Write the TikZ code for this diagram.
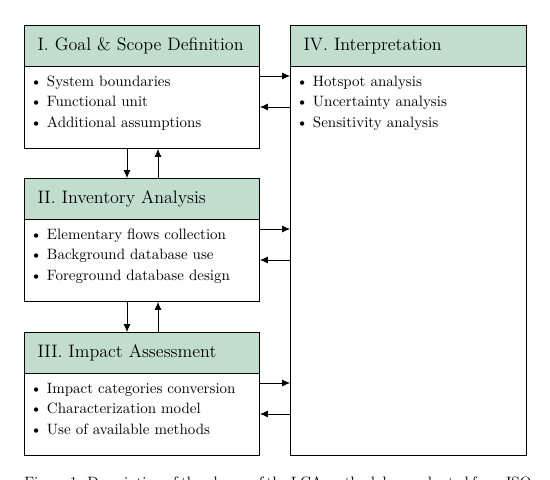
\documentclass[tikz,border=0pt]{standalone}
\usetikzlibrary{calc,arrows.meta}
\definecolor{hdr}{RGB}{193,221,205}
\begin{document}
\begin{tikzpicture}[x=0.6667pt,y=-0.6667pt,
  boxframe/.style={draw=black,line width=0.7pt,minimum width=156.67pt,minimum height=82pt,inner sep=0pt,anchor=north west},
  headbox/.style={draw=black,line width=0.7pt,fill=hdr,minimum width=156.67pt,minimum height=27.33pt,inner xsep=8.7pt,inner ysep=0pt,anchor=north west,text width=139.27pt,align=left,font=\large},
  itemlist/.style={anchor=north west,inner sep=0pt,align=left,font={\fontsize{10}{13.7}\selectfont}},
  arr/.style={-{Latex[length=5.3pt,width=4.7pt]},line width=0.5pt}]
\useasboundingbox (0,0) rectangle (550,480);
\clip (0,0) rectangle (550,480);
% Box I
\node[boxframe] (g1) at (24,25) {};
\node[headbox] (g1h) at (g1.north west) {I. Goal \& Scope Definition};
\node[itemlist] (g1l) at ($(g1h.south west)+(6,4.5)$) {\strut\textbullet{} System boundaries\\ \textbullet{} Functional unit\\ \textbullet{} Additional assumptions};
% Box II
\node[boxframe] (g2) at (24,178) {};
\node[headbox] (g2h) at (g2.north west) {II. Inventory Analysis};
\node[itemlist] (g2l) at ($(g2h.south west)+(6,4.5)$) {\strut\textbullet{} Elementary flows collection\\ \textbullet{} Background database use\\ \textbullet{} Foreground database design};
% Box III
\node[boxframe] (g3) at (24,332) {};
\node[headbox] (g3h) at (g3.north west) {III. Impact Assessment};
\node[itemlist] (g3l) at ($(g3h.south west)+(6,4.5)$) {\strut\textbullet{} Impact categories conversion\\ \textbullet{} Characterization model\\ \textbullet{} Use of available methods};
% Box IV
\node[boxframe,minimum width=157.33pt,minimum height=286.67pt] (g4) at (290,25) {};
\node[headbox,minimum width=157.33pt,text width=139.93pt] (g4h) at (g4.north west) {IV. Interpretation};
\node[itemlist] (g4l) at ($(g4h.south west)+(6,4.5)$) {\strut\textbullet{} Hotspot analysis\\ \textbullet{} Uncertainty analysis\\ \textbullet{} Sensitivity analysis};
% horizontal arrows
\foreach \b in {g1,g2,g3}{
  \coordinate (r\b) at ($(\b.north east)+(0,51)$);
  \coordinate (l\b) at ($(\b.north east)+(0,82)$);
  \draw[arr] (r\b) -- (r\b -| g4.west);
  \draw[arr] (l\b -| g4.west) -- (l\b);
}
% vertical arrows
\coordinate (d1) at ($(g1.south west)+(103,0)$);
\coordinate (u1) at ($(g1.south west)+(134,0)$);
\draw[arr] (d1) -- (d1 |- g2.north);
\draw[arr] (u1 |- g2.north) -- (u1);
\coordinate (d2) at ($(g2.south west)+(103,0)$);
\coordinate (u2) at ($(g2.south west)+(134,0)$);
\draw[arr] (d2) -- (d2 |- g3.north);
\draw[arr] (u2 |- g3.north) -- (u2);
% caption (cut off by the page edge)
\node[anchor=base west,inner sep=0pt] (cap) at (24,488) {\makebox[334.67pt][s]{Figure 1: Description of the phases of the LCA methodology, adapted from ISO}};
\end{tikzpicture}
\end{document}
